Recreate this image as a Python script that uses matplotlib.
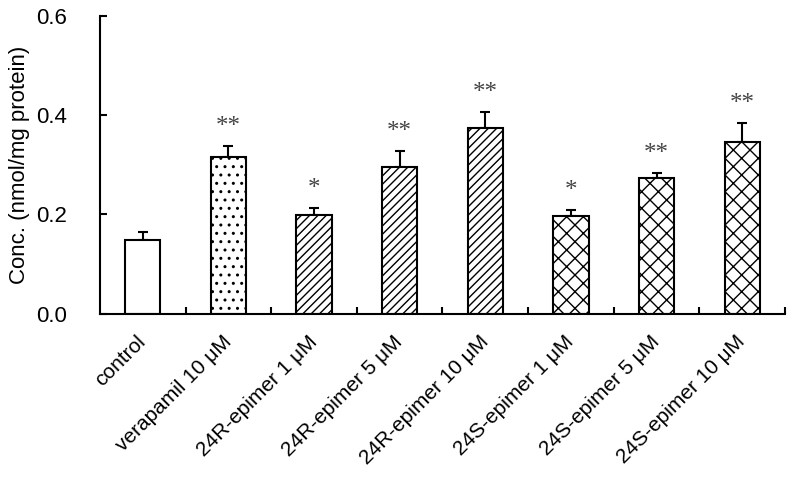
import numpy as np
import matplotlib
matplotlib.use("Agg")
import matplotlib.pyplot as plt
from matplotlib.ticker import FixedLocator

plt.rcParams['font.family'] = ['Liberation Sans', 'DejaVu Sans']
plt.rcParams['hatch.linewidth'] = 1.0

# --- data ---
grupos = ['control', 'verapamil 10 μM', '24R-epimer 1 μM', '24R-epimer 5 μM',
          '24R-epimer 10 μM', '24S-epimer 1 μM', '24S-epimer 5 μM', '24S-epimer 10 μM']
conc = [0.148, 0.316, 0.199, 0.295, 0.375, 0.197, 0.274, 0.347]
sd = [0.017, 0.022, 0.015, 0.033, 0.031, 0.012, 0.010, 0.037]
signif = ['', '**', '*', '**', '**', '*', '**', '**']
patrones = ['', '..', '////', '////', '////', 'xx', 'xx', 'xx']

x = np.arange(len(grupos))
fig = plt.figure(figsize=(7.93, 4.82), dpi=100)
ax = fig.add_axes([0.126, 0.349, 0.864, 0.618])

for i in range(len(grupos)):
    ax.bar(x[i], conc[i], 0.41, color='white', edgecolor='black',
           linewidth=1.5, hatch=patrones[i], zorder=2)
ax.errorbar(x, conc, yerr=[np.zeros(len(sd)), sd], fmt='none', ecolor='black',
            elinewidth=1.5, capsize=3.5, capthick=1.5, zorder=1)

for i in range(len(grupos)):
    if signif[i]:
        ax.text(x[i], conc[i] + sd[i] + 0.026, signif[i], ha='center', va='baseline',
                fontsize=18, color='#444444', family='Liberation Serif')

ax.set_xlim(-0.5, 7.5)
ax.set_ylim(0, 0.6)
ax.set_yticks([0.0, 0.2, 0.4, 0.6])
ax.set_yticklabels(['0.0', '0.2', '0.4', '0.6'])
ax.set_ylabel('Conc. (nmol/mg protein)', fontsize=16, labelpad=4)
ax.tick_params(axis='y', direction='in', length=5, width=1.5, labelsize=16, pad=24)

ax.set_xticks(x)
ax.set_xticklabels(grupos, rotation=45, ha='right', va='center', rotation_mode='anchor')
ax.xaxis.set_minor_locator(FixedLocator(np.arange(0.5, 8, 1)))
ax.tick_params(axis='x', which='major', length=0, labelsize=15, pad=18)
ax.tick_params(axis='x', which='minor', direction='in', length=5, width=1.5)

for s in ['top', 'right']:
    ax.spines[s].set_visible(False)
for s in ['left', 'bottom']:
    ax.spines[s].set_linewidth(1.5)

fig.savefig('out.png', dpi=100)
